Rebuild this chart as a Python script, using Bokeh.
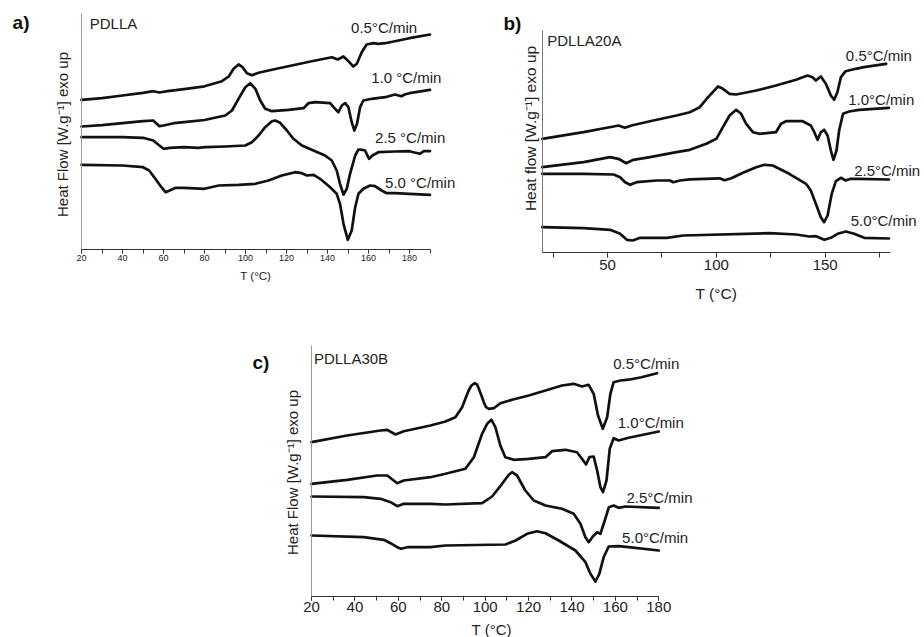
import math
from bokeh.plotting import figure
from bokeh.models import Range1d, SingleIntervalTicker, FixedTicker, LinearAxis
from bokeh.core.properties import value
from bokeh.embed import file_html
from bokeh.resources import INLINE

FONT = "Liberation Sans"
INK = "#111111"
TXT = "#222222"
W, H = 924, 637

# ---------------- Panel a) PDLLA  (heat flow in a.u.) ----------------
a05_T = [20, 30, 40, 50, 55, 58, 62, 70, 80, 88.5, 91.8, 94.2, 96.6, 98.6, 100.7, 103.1, 106.4, 112.9, 122.6, 132.3, 142.1, 145, 147.8, 150.2, 152.6, 154.3, 156.7, 159.1, 162.4, 164.8, 168.1, 172.9, 180, 190]
a05_v = [150.0, 151.6, 154.3, 157.0, 158.6, 157.3, 158.6, 160.6, 163.5, 168.6, 173.3, 181.0, 185.3, 182.6, 176.6, 174.6, 177.0, 180.0, 184.3, 188.6, 192.6, 190.3, 193.3, 188.6, 183.3, 186.0, 197.6, 205.3, 206.6, 206.0, 206.6, 208.6, 211.6, 215.3]
a10_T = [20, 30, 40, 50, 55, 58, 60, 65, 70, 80, 90.1, 93.4, 96.6, 99.9, 102.3, 104.8, 107.2, 109.6, 112.9, 121, 128.3, 130.7, 134, 141.3, 143.7, 145.3, 147, 148.6, 150.2, 151.8, 153.1, 154.4, 155.9, 157.5, 161.6, 168.1, 172.9, 176, 178, 180, 190]
a10_v = [123.3, 124.6, 126.6, 128.6, 129.3, 123.6, 124.3, 126.6, 127.6, 129.8, 134.3, 139.3, 151.0, 162.6, 166.6, 161.0, 149.3, 141.0, 138.6, 140.0, 141.6, 146.6, 147.6, 146.6, 141.0, 137.6, 144.3, 146.6, 142.6, 127.6, 119.3, 126.0, 142.6, 149.3, 151.0, 152.6, 155.3, 153.5, 155.5, 156.6, 160.0]
a25_T = [20, 40, 50, 55, 58, 60, 63, 70, 77, 80.4, 90.1, 99.9, 103.1, 106.4, 109.6, 112.9, 114.5, 116.9, 120.2, 123.4, 127.5, 132.3, 138.8, 142.1, 144.5, 146.1, 147.8, 149.4, 151, 153.5, 155.1, 157, 158.3, 160.3, 161.9, 164.8, 172.9, 180, 185, 187, 190]
a25_v = [112.6, 112.6, 112.0, 109.3, 104.3, 101.0, 102.0, 102.6, 102.0, 102.6, 103.3, 104.3, 107.6, 114.3, 122.6, 128.6, 129.3, 127.0, 119.3, 111.0, 104.3, 100.0, 94.3, 89.3, 79.3, 66.0, 55.3, 61.0, 76.0, 94.3, 100.3, 100.0, 99.3, 91.0, 94.3, 97.6, 98.3, 98.6, 96.0, 98.6, 98.6]
a50_T = [20, 40, 50, 53, 56, 59, 61, 63, 66, 70, 80, 86.9, 96.6, 104.8, 111.2, 117.7, 124.2, 127.5, 130, 133.2, 136.4, 141.3, 144.5, 146.1, 147.8, 149.9, 151.8, 153.5, 155.1, 157.5, 160.8, 163.2, 166.4, 168.9, 172.9, 180, 190]
a50_v = [85.0, 84.3, 82.6, 79.3, 71.0, 62.6, 57.6, 59.3, 62.0, 62.0, 61.0, 64.3, 65.0, 66.0, 69.3, 74.3, 77.6, 76.6, 74.3, 75.0, 71.0, 62.6, 56.0, 46.0, 26.0, 10.0, 19.3, 42.6, 56.0, 61.0, 64.3, 63.6, 59.3, 56.6, 56.6, 56.0, 55.0]
a_labels = ["0.5°C/min", "1.0 °C/min", "2.5 °C/min", "5.0 °C/min"]

# ---------------- Panel b) PDLLA20A ----------------
b05_T = [20, 39, 52.8, 55, 58, 61, 69.5, 81.7, 87.8, 92.4, 96.2, 100.8, 103, 106.1, 109.1, 118.3, 127.4, 136.6, 141.9, 144.2, 145.7, 148, 150.3, 152.6, 154.1, 155.6, 157.2, 159.4, 164, 167.8, 178]
b05_v = [114.0, 120.6, 126.3, 127.3, 125.0, 127.3, 131.6, 137.3, 140.6, 145.6, 155.6, 166.3, 164.0, 159.0, 158.3, 162.3, 167.3, 173.0, 177.3, 175.6, 172.3, 176.3, 169.0, 157.3, 153.0, 160.6, 175.6, 181.6, 184.0, 185.6, 189.0]
b10_T = [20, 39, 51.2, 55, 58.6, 61.9, 69.5, 81.7, 87.8, 95.4, 100, 103, 106.1, 109.1, 111.4, 113.7, 116.8, 119.8, 127.4, 129.7, 132, 139.6, 143.4, 145, 146.5, 148, 149.5, 151.1, 152.6, 153.8, 155.2, 156.4, 158.2, 161, 165.5, 179.3]
b10_v = [85.6, 90.6, 95.6, 94.0, 89.6, 93.0, 95.6, 100.6, 103.0, 109.0, 114.0, 125.6, 137.3, 143.0, 139.0, 129.0, 120.6, 119.0, 120.6, 129.0, 131.6, 131.6, 127.3, 120.6, 113.0, 120.6, 123.0, 117.3, 102.3, 93.0, 102.3, 122.3, 139.0, 141.3, 143.0, 145.0]
b25_T = [20, 39, 52.8, 55.8, 58.1, 60.4, 63.4, 72.6, 78.7, 80.2, 83.3, 87.8, 101.5, 103.8, 106.9, 112.2, 118.3, 122.1, 125.9, 133.5, 141.2, 143.4, 145.7, 148, 149.5, 151.1, 153, 154.9, 157.2, 159.4, 161.7, 165.5, 179.3]
b25_v = [79.0, 79.0, 78.3, 75.6, 70.6, 68.0, 70.6, 72.3, 72.3, 70.6, 72.3, 73.5, 74.5, 72.5, 74.5, 80.0, 85.6, 88.0, 87.3, 79.0, 69.0, 62.3, 49.0, 35.6, 30.6, 37.3, 59.0, 71.6, 75.0, 72.3, 74.0, 74.0, 73.3]
b50_T = [20, 39, 51.2, 55.8, 58.9, 61.6, 65, 77.2, 84.8, 124.4, 136.6, 142.7, 145.8, 149.6, 152.6, 155.7, 159.5, 163.3, 167.9, 179.3]
b50_v = [25.6, 24.6, 23.0, 19.0, 13.0, 12.3, 15.0, 15.0, 17.3, 19.6, 18.3, 16.3, 16.6, 13.0, 15.0, 19.0, 21.3, 19.0, 15.0, 14.3]
b_labels = ["0.5°C/min", "1.0°C/min", "2.5°C/min", "5.0°C/min"]

# ---------------- Panel c) PDLLA30B ----------------
c05_T = [20, 36.4, 51.8, 54.9, 58.7, 62.5, 74.8, 81.7, 86.3, 89.4, 90.9, 92.4, 93.7, 95.2, 96.3, 97.1, 98.1, 99.4, 100.4, 101.7, 104, 107, 112.4, 120.1, 127.8, 135.4, 140.8, 144.6, 147.7, 150, 152, 154.2, 156.2, 157.7, 159.2, 162.3, 166.1, 172, 179.2]
c05_v = [154.0, 160.7, 165.7, 166.4, 161.7, 165.0, 170.7, 174.7, 179.0, 189.0, 197.4, 205.7, 210.7, 213.0, 211.7, 207.4, 201.7, 194.0, 189.0, 187.4, 188.0, 193.0, 196.4, 200.7, 205.7, 210.7, 212.4, 209.7, 211.4, 202.4, 180.7, 167.4, 179.0, 202.4, 214.0, 215.7, 216.5, 219.0, 223.0]
c10_T = [20, 36.4, 50.2, 54.9, 59.5, 62.5, 74.8, 81.7, 90.9, 94.8, 98.6, 100.9, 102.9, 104.7, 107, 109.3, 113.2, 120.1, 127.8, 130.8, 137, 142.3, 144.6, 146.5, 148, 150, 151.6, 153.1, 154.3, 155.9, 157.4, 159.2, 161.5, 166.1, 180]
c10_v = [112.4, 116.4, 120.7, 120.7, 113.0, 115.7, 119.0, 122.4, 127.4, 139.0, 162.4, 172.4, 176.4, 169.0, 150.7, 139.0, 136.4, 137.4, 139.0, 145.0, 146.4, 144.0, 137.4, 131.7, 139.0, 139.7, 125.7, 109.0, 104.0, 115.7, 147.4, 158.0, 155.7, 158.4, 164.7]
c25_T = [20, 44.1, 51.8, 56.4, 59.5, 62.5, 74.8, 81.7, 98.6, 103.2, 107.8, 110.9, 112.4, 114.7, 118.5, 122.4, 127.8, 135.4, 140.8, 143.9, 146.2, 147.7, 149.7, 151.6, 153.1, 155.1, 157, 159.2, 161.5, 164.6, 180]
c25_v = [99.7, 99.0, 97.4, 94.0, 90.0, 92.4, 92.4, 91.7, 93.0, 99.7, 112.4, 121.4, 124.0, 120.7, 105.7, 95.7, 90.7, 87.4, 82.4, 72.4, 59.0, 54.0, 60.0, 64.0, 62.4, 75.7, 89.0, 90.7, 88.4, 89.7, 88.4]
c50_T = [20, 44.1, 53.3, 56.4, 59.5, 61.3, 64.1, 74.8, 81.7, 109.3, 114, 119.3, 123.9, 127.8, 133.9, 141.6, 146.2, 148.5, 150.8, 152.6, 154.6, 156.9, 161.5, 166.1, 180]
c50_v = [60.7, 59.0, 56.4, 53.0, 49.0, 47.4, 49.0, 49.0, 50.7, 51.7, 55.7, 62.4, 65.0, 63.0, 55.7, 45.7, 34.0, 22.4, 14.7, 22.4, 39.0, 49.7, 50.0, 49.0, 45.7]
c_labels = ["0.5°C/min", "1.0°C/min", "2.5°C/min", "5.0°C/min"]

# One canvas; each panel gets its own pair of ranges mapped onto its box on the page.
p = figure(width=W, height=H, x_range=Range1d(0, W), y_range=Range1d(0, H),
           x_axis_type=None, y_axis_type=None, min_border=0,
           output_backend="svg", toolbar_location=None)
p.outline_line_color = None
p.xgrid.visible = False
p.ygrid.visible = False


def panel_ranges(name, box, xlim, ylim):
    left, top, right, bottom = box
    sx = (right - left) / (xlim[1] - xlim[0])
    sy = (bottom - top) / (ylim[1] - ylim[0])
    p.extra_x_ranges[name] = Range1d(xlim[0] - left / sx, xlim[0] + (W - left) / sx)
    p.extra_y_ranges[name] = Range1d(ylim[0] - (H - bottom) / sy, ylim[0] + bottom / sy)


def draw_panel(name, box, xlim, ylim, interval, curves, labels, label_pos,
               title, title_pos, letter, letter_pos, ylabel, ylabel_pos, xlabel_pos,
               tick_fs, xlab_fs, ylab_fs, tick_out, tick_standoff, yaxis_color, ytop):
    panel_ranges(name, box, xlim, ylim)
    rn = dict(x_range_name=name, y_range_name=name)

    xa = LinearAxis(fixed_location=ylim[0], bounds=xlim, **rn,
                    ticker=SingleIntervalTicker(interval=interval, num_minor_ticks=2))
    xa.major_label_text_font = FONT
    xa.major_label_text_font_size = tick_fs
    xa.major_label_text_color = TXT
    xa.major_label_standoff = tick_standoff
    xa.major_tick_in = 0
    xa.minor_tick_in = 0
    xa.major_tick_out = tick_out
    xa.minor_tick_out = tick_out
    xa.axis_line_color = "#333333"
    xa.major_tick_line_color = "#333333"
    xa.minor_tick_line_color = "#333333"
    p.add_layout(xa, "below")

    ya = LinearAxis(fixed_location=xlim[0], bounds=(ylim[0], ytop), **rn,
                    ticker=FixedTicker(ticks=[]))
    ya.major_tick_out = 0
    ya.minor_tick_out = 0
    ya.major_tick_in = 0
    ya.minor_tick_in = 0
    ya.axis_line_color = yaxis_color
    p.add_layout(ya, "left")

    for T, v in curves:
        p.line(T, v, line_color=INK, line_width=2.7, line_join="round", line_cap="round", **rn)

    p.text(x=[q[0] for q in label_pos], y=[q[1] for q in label_pos], text=labels,
           text_font=value(FONT), text_font_size="15px", text_color=TXT,
           text_baseline="middle", text_align="left", **rn)
    p.text(x=[title_pos[0]], y=[title_pos[1]], text=[title],
           text_font=value(FONT), text_font_size="15px", text_color=TXT,
           text_baseline="middle", text_align="left", **rn)
    p.text(x=[letter_pos[0]], y=[letter_pos[1]], text=[letter],
           text_font=value(FONT), text_font_size="19px", text_font_style="bold",
           text_color="#111111", text_baseline="middle", text_align="left", **rn)
    p.text(x=[xlabel_pos[0]], y=[xlabel_pos[1]], text=["T (°C)"],
           text_font=value(FONT), text_font_size=xlab_fs, text_color=TXT,
           text_baseline="middle", text_align="center", **rn)
    p.text(x=[ylabel_pos[0]], y=[ylabel_pos[1]], text=[ylabel], angle=math.pi / 2,
           text_font=value(FONT), text_font_size=ylab_fs, text_color=TXT,
           text_baseline="middle", text_align="center", **rn)


draw_panel("a", (81, 13.3, 429.5, 249.3), (20, 190), (0, 236), 20,
           [(a05_T, a05_v), (a10_T, a10_v), (a25_T, a25_v), (a50_T, a50_v)],
           a_labels, [(151.5, 222), (161.3, 172), (163.2, 112), (168.1, 67)],
           "PDLLA", (24, 226.3), "a)", (-13.6, 227.3),
           "Heat Flow [W.g⁻¹] exo up", (10.7, 115.3), (105, -25.7),
           "9px", "11.5px", "15px", 4, 1, "#999999", 236)

draw_panel("b", (541.7, 32.3, 890, 252.3), (20, 180), (0, 220), 50,
           [(b05_T, b05_v), (b10_T, b10_v), (b25_T, b25_v), (b50_T, b50_v)],
           b_labels, [(159.5, 197.3), (160.6, 153.3), (163.3, 82.3), (161.7, 32.3)],
           "PDLLA20A", (22.3, 212.3), "b)", (2.2, 229.3),
           "Heat flow [W.g⁻¹] exo up", (14.6, 124.3), (100, -41),
           "15px", "15.5px", "15.5px", 5, 2, "#777777", 222)

draw_panel("c", (311, 344.7, 658.3, 595.7), (20, 180), (0, 251), 20,
           [(c05_T, c05_v), (c10_T, c10_v), (c25_T, c25_v), (c50_T, c50_v)],
           c_labels, [(159, 232.4), (161.1, 174), (165.1, 99), (163.1, 59)],
           "PDLLA30B", (21.1, 238.2), "c)", (-7.2, 234.2),
           "Heat Flow [W.g⁻¹] exo up", (11.1, 123.7), (103, -32.8),
           "15px", "15px", "15px", 4, 2, "#999999", 251)

open("out.html", "w").write(file_html(p, INLINE))
